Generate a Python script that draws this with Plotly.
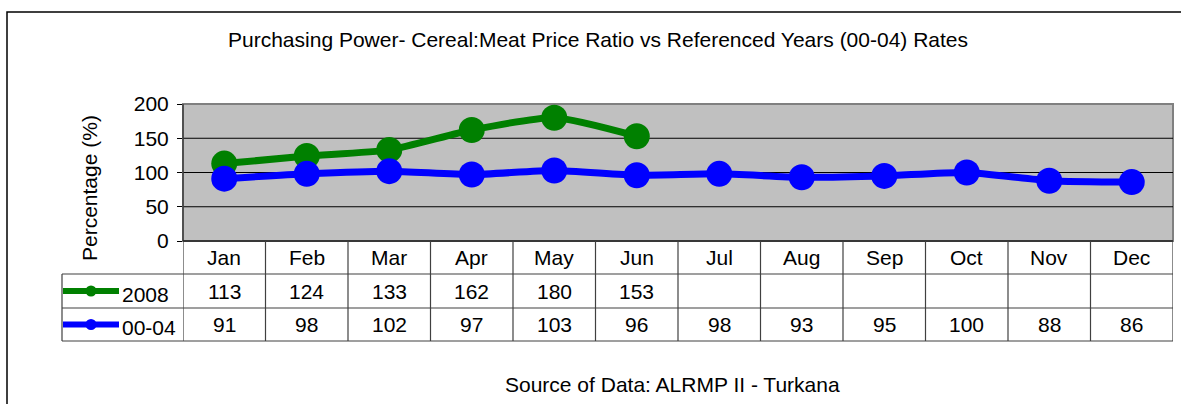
import plotly.graph_objects as go

months = ["Jan", "Feb", "Mar", "Apr", "May", "Jun", "Jul", "Aug", "Sep", "Oct", "Nov", "Dec"]
s2008 = [113, 124, 133, 162, 180, 153]
s0004 = [91, 98, 102, 97, 103, 96, 98, 93, 95, 100, 88, 86]
series_names = ["2008", "00-04"]
y_ticks = [0, 50, 100, 150, 200]

W, H = 1181, 404
FONT = "Liberation Sans, Arial, sans-serif"
FS = 21

def px(x):
    return x / W

def py(y):
    return 1 - y / H

plot_l, plot_r, plot_t, plot_b = 183, 1173, 104, 241
row_y = [241, 274, 308, 341]
label_l = 62

fig = go.Figure()
x_idx = list(range(len(months)))
fig.add_trace(go.Scatter(x=x_idx[:len(s2008)], y=s2008, mode="lines+markers",
                         line=dict(color="#008000", width=7, shape="spline", smoothing=0.6),
                         marker=dict(size=26, color="#008000"), name=series_names[0],
                         cliponaxis=False))
fig.add_trace(go.Scatter(x=x_idx, y=s0004, mode="lines+markers",
                         line=dict(color="#0000FF", width=7, shape="spline", smoothing=0.6),
                         marker=dict(size=26, color="#0000FF"), name=series_names[1],
                         cliponaxis=False))

shapes = []
ann = []
# outer frame
shapes.append(dict(type="rect", xref="paper", yref="paper", x0=px(7), x1=1.05, y0=-0.05, y1=py(12),
                   line=dict(color="black", width=1.5), layer="below"))
# plot area background
shapes.append(dict(type="rect", xref="paper", yref="paper", x0=px(plot_l), x1=px(plot_r),
                   y0=py(plot_b), y1=py(plot_t), fillcolor="#C0C0C0",
                   line=dict(color="#808080", width=2), layer="below"))
# gridlines
for t in y_ticks[1:-1]:
    shapes.append(dict(type="line", xref="paper", yref="y", x0=px(plot_l), x1=px(plot_r), y0=t, y1=t,
                       line=dict(color="black", width=1), layer="below"))
# axis line left and bottom
shapes.append(dict(type="line", xref="paper", yref="paper", x0=px(plot_l), x1=px(plot_l),
                   y0=py(plot_b), y1=py(plot_t), line=dict(color="#404040", width=1.5)))
shapes.append(dict(type="line", xref="paper", yref="paper", x0=px(plot_l), x1=px(plot_r),
                   y0=py(plot_b), y1=py(plot_b), line=dict(color="#202020", width=1.5)))

tcol = "#404040"
# table horizontal lines
for ry in row_y[1:]:
    shapes.append(dict(type="line", xref="paper", yref="paper", x0=px(label_l), x1=px(plot_r),
                       y0=py(ry), y1=py(ry), line=dict(color=tcol, width=1.2)))
# table vertical lines
for i in range(len(months) + 1):
    shapes.append(dict(type="line", xref="x", yref="paper", x0=i - 0.5, x1=i - 0.5,
                       y0=py(row_y[-1]), y1=py(row_y[0]), line=dict(color=tcol, width=1.2)))
shapes.append(dict(type="line", xref="paper", yref="paper", x0=px(label_l), x1=px(label_l),
                   y0=py(row_y[-1]), y1=py(row_y[1]), line=dict(color=tcol, width=1.2)))

def txt(x, y, text, xref="paper", xanchor="center", angle=0):
    return dict(x=x, y=y, xref=xref, yref="paper", text=text, showarrow=False,
                xanchor=xanchor, yanchor="middle", textangle=angle,
                font=dict(size=FS, color="black", family=FONT))

# month labels
for i, m in enumerate(months):
    ann.append(txt(i, py((row_y[0] + row_y[1]) / 2), m, xref="x"))
# values
for r, (vals, col) in enumerate([(s2008, "#008000"), (s0004, "#0000FF")]):
    yc = py((row_y[r + 1] + row_y[r + 2]) / 2)
    for i, v in enumerate(vals):
        ann.append(txt(i, yc, str(v), xref="x"))
    # legend key
    shapes.append(dict(type="line", xref="paper", yref="paper", x0=px(63), x1=px(119), y0=yc, y1=yc,
                       line=dict(color=col, width=6)))
    shapes.append(dict(type="circle", xref="paper", yref="paper", x0=px(85.5), x1=px(96.5),
                       y0=yc - 5.5 / H, y1=yc + 5.5 / H, fillcolor=col, line=dict(color=col, width=0)))
    ann.append(txt(px(120), yc - 3 / H, series_names[r], xanchor="left"))

# title
ann.append(txt(px(598), py(40),
               "Purchasing Power- Cereal:Meat Price Ratio vs Referenced Years (00-04) Rates"))
# y title
ann.append(txt(px(89), py(188), "Percentage (%)", angle=-90))
# source
ann.append(txt(px(672), py(384), "Source of Data: ALRMP II - Turkana"))

fig.update_layout(
    width=W, height=H, margin=dict(l=0, r=0, t=0, b=0, pad=0, autoexpand=False),
    paper_bgcolor="white", plot_bgcolor="rgba(0,0,0,0)", showlegend=False,
    shapes=shapes, annotations=ann,
    xaxis=dict(domain=[px(plot_l), px(plot_r)], range=[-0.5, 11.5], showgrid=False, zeroline=False,
               showticklabels=False, ticks="", fixedrange=True, automargin=False),
    yaxis=dict(domain=[py(plot_b), py(plot_t)], range=[0, 200], tickvals=y_ticks, showgrid=False,
               zeroline=False, ticks="outside", ticklen=5, tickcolor="black", tickwidth=1,
               tickfont=dict(size=FS, color="black", family=FONT), ticklabelstandoff=4,
               automargin=False, fixedrange=True),
)
fig.write_html("out.html", config={"displayModeBar": False},
               post_script="document.body.style.margin='0';document.body.style.overflow='hidden';")
